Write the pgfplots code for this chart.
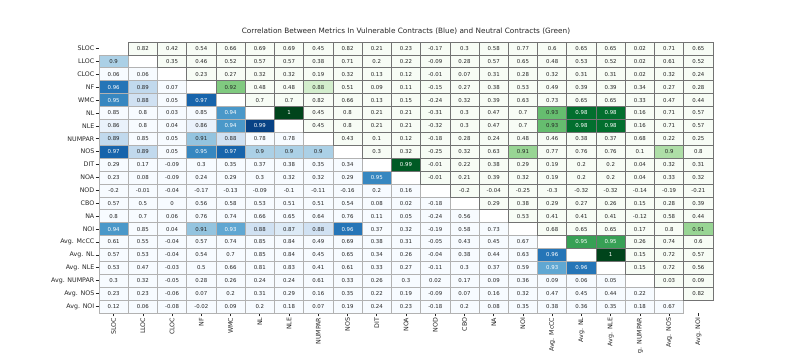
\documentclass[border=0pt]{standalone}
\usepackage{fontspec}
\setmainfont{DejaVu Sans}
\usepackage{pgfplots}
\usepackage{pgfplotstable}
\pgfplotsset{compat=1.18}
\definecolor{txtd}{HTML}{262626}
\pgfplotsset{
 colormap={Blues}{HTML(0pt)=(F7FBFF) HTML(120pt)=(F7FBFF) HTML(121.875pt)=(DEEBF7) HTML(123.75pt)=(C6DBEF) HTML(125.625pt)=(9ECAE1) HTML(127.5pt)=(6BAED6) HTML(129.375pt)=(4292C6) HTML(131.25pt)=(2171B5) HTML(133.125pt)=(08519C) HTML(135pt)=(08306B)},
 colormap={Greens}{HTML(0pt)=(F7FCF5) HTML(120pt)=(F7FCF5) HTML(121.875pt)=(E5F5E0) HTML(123.75pt)=(C7E9C0) HTML(125.625pt)=(A1D99B) HTML(127.5pt)=(74C476) HTML(129.375pt)=(41AB5D) HTML(131.25pt)=(238B45) HTML(133.125pt)=(006D2C) HTML(135pt)=(00441B)},
 cellstyle/.style={scatter, only marks, mark=cell, mark options={line width=0.7pt}, point meta=explicit},
 labstyle/.style={draw=none, mark=none, forget plot, point meta=explicit,
   nodes near coords={\pgfmathprintnumber[fixed,precision=2,assume math mode=true]{\pgfplotspointmeta}},
   every node near coord/.append style={anchor=center, inner sep=0pt, font=\fontsize{5.4}{6}\selectfont, text=#1}},
}
\pgfdeclareplotmark{cell}{\pgfpathrectangle{\pgfpoint{-14.619pt}{-6.452pt}}{\pgfpoint{29.238pt}{12.905pt}}\pgfusepathqfillstroke}

% lower triangle: vulnerable contracts (x = column, y = row)
\pgfplotstableread[row sep=\\]{
x y v\\
0 1 0.9\\
0 2 0.06\\ 1 2 0.06\\
0 3 0.96\\ 1 3 0.89\\ 2 3 0.07\\
0 4 0.95\\ 1 4 0.88\\ 2 4 0.05\\ 3 4 0.97\\
0 5 0.85\\ 1 5 0.8\\ 2 5 0.03\\ 3 5 0.85\\ 4 5 0.94\\
0 6 0.86\\ 1 6 0.8\\ 2 6 0.04\\ 3 6 0.86\\ 4 6 0.94\\ 5 6 0.99\\
0 7 0.89\\ 1 7 0.85\\ 2 7 0.05\\ 3 7 0.91\\ 4 7 0.88\\ 5 7 0.78\\ 6 7 0.78\\
0 8 0.97\\ 1 8 0.89\\ 2 8 0.05\\ 3 8 0.95\\ 4 8 0.97\\ 5 8 0.9\\ 6 8 0.9\\ 7 8 0.9\\
0 9 0.29\\ 1 9 0.17\\ 2 9 -0.09\\ 3 9 0.3\\ 4 9 0.35\\ 5 9 0.37\\ 6 9 0.38\\ 7 9 0.35\\ 8 9 0.34\\
0 10 0.23\\ 1 10 0.08\\ 2 10 -0.09\\ 3 10 0.24\\ 4 10 0.29\\ 5 10 0.3\\ 6 10 0.32\\ 7 10 0.32\\ 8 10 0.29\\ 9 10 0.95\\
0 11 -0.2\\ 1 11 -0.01\\ 2 11 -0.04\\ 3 11 -0.17\\ 4 11 -0.13\\ 5 11 -0.09\\ 6 11 -0.1\\ 7 11 -0.11\\ 8 11 -0.16\\ 9 11 0.2\\ 10 11 0.16\\
0 12 0.57\\ 1 12 0.5\\ 2 12 0\\ 3 12 0.56\\ 4 12 0.58\\ 5 12 0.53\\ 6 12 0.51\\ 7 12 0.51\\ 8 12 0.54\\ 9 12 0.08\\ 10 12 0.02\\ 11 12 -0.18\\
0 13 0.8\\ 1 13 0.7\\ 2 13 0.06\\ 3 13 0.76\\ 4 13 0.74\\ 5 13 0.66\\ 6 13 0.65\\ 7 13 0.64\\ 8 13 0.76\\ 9 13 0.11\\ 10 13 0.05\\ 11 13 -0.24\\ 12 13 0.56\\
0 14 0.94\\ 1 14 0.85\\ 2 14 0.04\\ 3 14 0.91\\ 4 14 0.93\\ 5 14 0.88\\ 6 14 0.87\\ 7 14 0.88\\ 8 14 0.96\\ 9 14 0.37\\ 10 14 0.32\\ 11 14 -0.19\\ 12 14 0.58\\ 13 14 0.73\\
0 15 0.61\\ 1 15 0.55\\ 2 15 -0.04\\ 3 15 0.57\\ 4 15 0.74\\ 5 15 0.85\\ 6 15 0.84\\ 7 15 0.49\\ 8 15 0.69\\ 9 15 0.38\\ 10 15 0.31\\ 11 15 -0.05\\ 12 15 0.43\\ 13 15 0.45\\ 14 15 0.67\\
0 16 0.57\\ 1 16 0.53\\ 2 16 -0.04\\ 3 16 0.54\\ 4 16 0.7\\ 5 16 0.85\\ 6 16 0.84\\ 7 16 0.45\\ 8 16 0.65\\ 9 16 0.34\\ 10 16 0.26\\ 11 16 -0.04\\ 12 16 0.38\\ 13 16 0.44\\ 14 16 0.63\\ 15 16 0.96\\
0 17 0.53\\ 1 17 0.47\\ 2 17 -0.03\\ 3 17 0.5\\ 4 17 0.66\\ 5 17 0.81\\ 6 17 0.83\\ 7 17 0.41\\ 8 17 0.61\\ 9 17 0.33\\ 10 17 0.27\\ 11 17 -0.11\\ 12 17 0.3\\ 13 17 0.37\\ 14 17 0.59\\ 15 17 0.93\\ 16 17 0.96\\
0 18 0.3\\ 1 18 0.32\\ 2 18 -0.05\\ 3 18 0.28\\ 4 18 0.26\\ 5 18 0.24\\ 6 18 0.24\\ 7 18 0.61\\ 8 18 0.33\\ 9 18 0.26\\ 10 18 0.3\\ 11 18 0.02\\ 12 18 0.17\\ 13 18 0.09\\ 14 18 0.36\\ 15 18 0.09\\ 16 18 0.06\\ 17 18 0.05\\
0 19 0.23\\ 1 19 0.23\\ 2 19 -0.06\\ 3 19 0.07\\ 4 19 0.2\\ 5 19 0.31\\ 6 19 0.29\\ 7 19 0.16\\ 8 19 0.35\\ 9 19 0.22\\ 10 19 0.19\\ 11 19 -0.09\\ 12 19 0.07\\ 13 19 0.16\\ 14 19 0.32\\ 15 19 0.47\\ 16 19 0.45\\ 17 19 0.44\\ 18 19 0.22\\
0 20 0.12\\ 1 20 0.06\\ 2 20 -0.08\\ 3 20 -0.02\\ 4 20 0.09\\ 5 20 0.2\\ 6 20 0.18\\ 7 20 0.07\\ 8 20 0.19\\ 9 20 0.24\\ 10 20 0.23\\ 11 20 -0.18\\ 12 20 0.2\\ 13 20 0.08\\ 14 20 0.35\\ 15 20 0.38\\ 16 20 0.36\\ 17 20 0.35\\ 18 20 0.18\\ 19 20 0.67\\
}\lowertab

% upper triangle: neutral contracts
\pgfplotstableread[row sep=\\]{
x y v\\
1 0 0.82\\ 2 0 0.42\\ 3 0 0.54\\ 4 0 0.66\\ 5 0 0.69\\ 6 0 0.69\\ 7 0 0.45\\ 8 0 0.82\\ 9 0 0.21\\ 10 0 0.23\\ 11 0 -0.17\\ 12 0 0.3\\ 13 0 0.58\\ 14 0 0.77\\ 15 0 0.6\\ 16 0 0.65\\ 17 0 0.65\\ 18 0 0.02\\ 19 0 0.71\\ 20 0 0.65\\
2 1 0.35\\ 3 1 0.46\\ 4 1 0.52\\ 5 1 0.57\\ 6 1 0.57\\ 7 1 0.38\\ 8 1 0.71\\ 9 1 0.2\\ 10 1 0.22\\ 11 1 -0.09\\ 12 1 0.28\\ 13 1 0.57\\ 14 1 0.65\\ 15 1 0.48\\ 16 1 0.53\\ 17 1 0.52\\ 18 1 0.02\\ 19 1 0.61\\ 20 1 0.52\\
3 2 0.23\\ 4 2 0.27\\ 5 2 0.32\\ 6 2 0.32\\ 7 2 0.19\\ 8 2 0.32\\ 9 2 0.13\\ 10 2 0.12\\ 11 2 -0.01\\ 12 2 0.07\\ 13 2 0.31\\ 14 2 0.28\\ 15 2 0.32\\ 16 2 0.31\\ 17 2 0.31\\ 18 2 0.02\\ 19 2 0.32\\ 20 2 0.24\\
4 3 0.92\\ 5 3 0.48\\ 6 3 0.48\\ 7 3 0.88\\ 8 3 0.51\\ 9 3 0.09\\ 10 3 0.11\\ 11 3 -0.15\\ 12 3 0.27\\ 13 3 0.38\\ 14 3 0.53\\ 15 3 0.49\\ 16 3 0.39\\ 17 3 0.39\\ 18 3 0.34\\ 19 3 0.27\\ 20 3 0.28\\
5 4 0.7\\ 6 4 0.7\\ 7 4 0.82\\ 8 4 0.66\\ 9 4 0.13\\ 10 4 0.15\\ 11 4 -0.24\\ 12 4 0.32\\ 13 4 0.39\\ 14 4 0.63\\ 15 4 0.73\\ 16 4 0.65\\ 17 4 0.65\\ 18 4 0.33\\ 19 4 0.47\\ 20 4 0.44\\
6 5 1\\ 7 5 0.45\\ 8 5 0.8\\ 9 5 0.21\\ 10 5 0.21\\ 11 5 -0.31\\ 12 5 0.3\\ 13 5 0.47\\ 14 5 0.7\\ 15 5 0.93\\ 16 5 0.98\\ 17 5 0.98\\ 18 5 0.16\\ 19 5 0.71\\ 20 5 0.57\\
7 6 0.45\\ 8 6 0.8\\ 9 6 0.21\\ 10 6 0.21\\ 11 6 -0.32\\ 12 6 0.3\\ 13 6 0.47\\ 14 6 0.7\\ 15 6 0.93\\ 16 6 0.98\\ 17 6 0.98\\ 18 6 0.16\\ 19 6 0.71\\ 20 6 0.57\\
8 7 0.43\\ 9 7 0.1\\ 10 7 0.12\\ 11 7 -0.18\\ 12 7 0.28\\ 13 7 0.24\\ 14 7 0.48\\ 15 7 0.46\\ 16 7 0.38\\ 17 7 0.37\\ 18 7 0.68\\ 19 7 0.22\\ 20 7 0.25\\
9 8 0.3\\ 10 8 0.32\\ 11 8 -0.25\\ 12 8 0.32\\ 13 8 0.63\\ 14 8 0.91\\ 15 8 0.77\\ 16 8 0.76\\ 17 8 0.76\\ 18 8 0.1\\ 19 8 0.9\\ 20 8 0.8\\
10 9 0.99\\ 11 9 -0.01\\ 12 9 0.22\\ 13 9 0.38\\ 14 9 0.29\\ 15 9 0.19\\ 16 9 0.2\\ 17 9 0.2\\ 18 9 0.04\\ 19 9 0.32\\ 20 9 0.31\\
11 10 -0.01\\ 12 10 0.21\\ 13 10 0.39\\ 14 10 0.32\\ 15 10 0.19\\ 16 10 0.2\\ 17 10 0.2\\ 18 10 0.04\\ 19 10 0.33\\ 20 10 0.32\\
12 11 -0.2\\ 13 11 -0.04\\ 14 11 -0.25\\ 15 11 -0.3\\ 16 11 -0.32\\ 17 11 -0.32\\ 18 11 -0.14\\ 19 11 -0.19\\ 20 11 -0.21\\
13 12 0.29\\ 14 12 0.38\\ 15 12 0.29\\ 16 12 0.27\\ 17 12 0.26\\ 18 12 0.15\\ 19 12 0.28\\ 20 12 0.39\\
14 13 0.53\\ 15 13 0.41\\ 16 13 0.41\\ 17 13 0.41\\ 18 13 -0.12\\ 19 13 0.58\\ 20 13 0.44\\
15 14 0.68\\ 16 14 0.65\\ 17 14 0.65\\ 18 14 0.17\\ 19 14 0.8\\ 20 14 0.91\\
16 15 0.95\\ 17 15 0.95\\ 18 15 0.26\\ 19 15 0.74\\ 20 15 0.6\\
17 16 1\\ 18 16 0.15\\ 19 16 0.72\\ 20 16 0.57\\
18 17 0.15\\ 19 17 0.72\\ 20 17 0.56\\
19 18 0.03\\ 20 18 0.09\\
20 19 0.82\\
}\uppertab

\begin{document}
\begin{tikzpicture}
\path[use as bounding box] (0,0) rectangle (793pt,353pt);
\begin{axis}[
 at={(99pt,40pt)}, anchor=south west,
 scale only axis, width=614pt, height=271pt,
 xmin=-0.5, xmax=20.5, ymin=-20.5, ymax=0.5,
 enlargelimits=false, clip=false,
 axis line style={draw=none},
 xtick={0,...,20}, ytick={-20,-19,...,0},
 xticklabels={SLOC,LLOC,CLOC,NF,WMC,NL,NLE,NUMPAR,NOS,DIT,NOA,NOD,CBO,NA,NOI,Avg. McCC,Avg. NL,Avg. NLE,Avg. NUMPAR,Avg. NOS,Avg. NOI},
 yticklabels={Avg. NOI,Avg. NOS,Avg. NUMPAR,Avg. NLE,Avg. NL,Avg. McCC,NOI,NA,CBO,NOD,NOA,DIT,NOS,NUMPAR,NLE,NL,WMC,NF,CLOC,LLOC,SLOC},
 tick align=outside, major tick length=3.5pt,
 tick style={txtd, line width=0.7pt},
 xtick pos=left, ytick pos=left,
 xticklabel style={rotate=90, anchor=east, inner sep=1pt, font=\fontsize{6.3}{7.5}\selectfont, text=txtd},
 yticklabel style={inner sep=1pt, font=\fontsize{6.3}{7.5}\selectfont, text=txtd},
 point meta min=-0.35, point meta max=1,
 title={Correlation Between Metrics In Vulnerable Contracts (Blue) and Neutral Contracts (Green)},
 title style={at={(0.5,1)}, anchor=south, inner sep=0pt, yshift=1.5pt, font=\fontsize{7.3}{8.5}\selectfont, text=txtd},
]
% cells
\addplot[cellstyle, colormap name=Blues, scatter/use mapped color={draw=gray!60, fill=mapped color}]
  table[x=x, y expr=-\thisrow{y}, meta=v] {\lowertab};
\addplot[cellstyle, colormap name=Greens, scatter/use mapped color={draw=black!55, fill=mapped color}]
  table[x=x, y expr=-\thisrow{y}, meta=v] {\uppertab};
% labels
\addplot[labstyle=txtd, restrict expr to domain={\thisrow{v}}{-1:0.925}]
  table[x=x, y expr=-\thisrow{y}, meta=v] {\lowertab};
\addplot[labstyle=white, restrict expr to domain={\thisrow{v}}{0.925:2}]
  table[x=x, y expr=-\thisrow{y}, meta=v] {\lowertab};
\addplot[labstyle=txtd, restrict expr to domain={\thisrow{v}}{-1:0.945}]
  table[x=x, y expr=-\thisrow{y}, meta=v] {\uppertab};
\addplot[labstyle=white, restrict expr to domain={\thisrow{v}}{0.945:2}]
  table[x=x, y expr=-\thisrow{y}, meta=v] {\uppertab};
\end{axis}
\end{tikzpicture}
\end{document}
